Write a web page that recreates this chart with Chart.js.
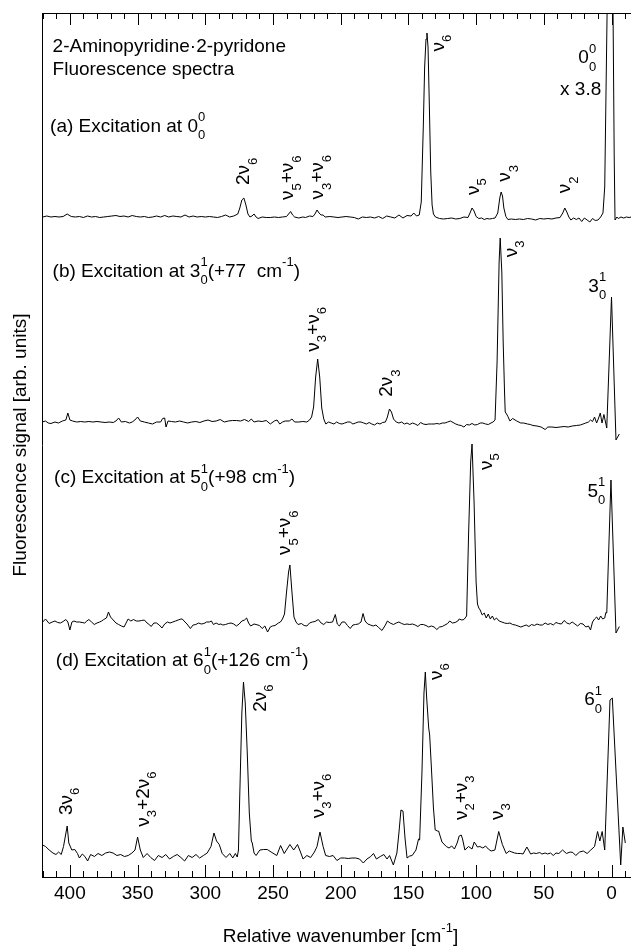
<!DOCTYPE html>
<html>
<head>
<meta charset="utf-8">
<title>2-Aminopyridine·2-pyridone fluorescence spectra</title>
<script src="https://cdn.jsdelivr.net/npm/chart.js"></script>
<style>
  body { margin: 0; background: #fff; }
  canvas { display: block; }
</style>
</head>
<body>
<canvas id="spectraCanvas" width="631" height="946"></canvas>
<script>
// Spectra: [relative wavenumber (cm-1), signal above the trace baseline]
const spectrumA = [
  [420,0],[417,1],[414,0],[411,0.5],[408,0],[405,0.5],[402,3],[399,0.5],[396,0],[393,0.5],[390,-0.5],[387,1],
  [384,0],[381,0.5],[378,-0.5],[375,0],[372,0.5],[369,1],[366,1.5],[363,0.5],[360,1],[357,0],[354,1.5],[351,0.5],
  [348,0],[345,0.5],[342,-0.5],[339,0],[336,1],[333,0],[330,1.5],[327,0],[324,1],[321,0.5],[318,0],[315,2],
  [312,0],[309,1],[306,0],[303,0.5],[300,0],[297,0.5],[294,0],[291,-0.5],[288,0.5],[285,2],[282,0],[279,1],
  [276,3],[274.5,9],[273,17],[271.5,19],[270,12],[268.5,3],[267,0],[265.5,1],[264,3],[262.5,0],[261,-1.5],
  [258,0],[255,-0.5],[252,-0.5],[249,0],[246,-0.5],[243,0],[240,0.5],[238.5,3],[237,5.5],[235.5,2],[234,0],
  [231,-1],[228,0],[226,-0.5],[223,1],[220.5,0.5],[219,3],[217.5,7],[216,4],[214.5,2],[213,2],[211.5,0],
  [208,0.5],[205,0],[202,-0.5],[199,0],[196,0.5],[193,0],[190,-0.5],[187,-2],[184,0],[181,-0.5],[178,0],
  [175,-1],[172,0.5],[169,-1.5],[166,1],[163,0],[160,-1],[157,2],[154,-1],[151,1.5],[148,1],[146,4],[144,1],
  [142,2],[140.5,15],[139,90],[138,150],[137,178],[136.3,184],[135.5,170],[134.5,110],[133.5,45],[132.5,12],
  [131.5,3],[130,0],[127,-1.5],[124,-2],[121,-1.5],[118,-1],[115,-2],[112,-1.5],[109,0],[106,-0.5],[104.5,4],
  [103,9],[101.5,6],[100,0.5],[98,-1.5],[96,-1],[94,-2.5],[92,-1.5],[90,-2],[88,-1.5],[86,-1],[84,4],
  [82.5,19],[81.5,25],[80.5,21],[79.5,9],[78,0.5],[76.5,-2.5],[74,-2],[71,-2.5],[68,-2],[65,-2.5],[62,-1.5],
  [59,-2],[56,-3],[53,-1.5],[50,-2],[47,-1.5],[44,-2],[41,-1],[38,-0.5],[36,4],[34.5,9],[33,5],[31.5,0],
  [30,-3],[28,-1],[26,-2.5],[24,-1],[22,-4.5],[20,-1],[18,-3],[16,-5],[14,-1.5],[12,-3.5],[10,-3],[8,0],
  [6.3,4],[5,30],[3,230],[1,400],[-1,230],[-2,60],[-2.6,-3],[-4,0],[-5,-1.5],[-7,0],[-9,-1],[-11,0],
  [-13,-0.5],[-14.5,0]
];

const spectrumB = [
  [420.5,0],[418,1],[416,-1],[414,-1.5],[411,0],[408.5,-1],[405.5,1],[403,2],[401.5,9],[400,2],[398,1],[395,0],
  [392,0.5],[389,0],[386,0.5],[383,0],[380,0.5],[377,0],[374,-0.5],[371,0],[368,-0.5],[366,1],[364,4],[362,0],
  [359,0.5],[356,-1],[354,0],[352,2],[350,5],[348,1],[345,0],[342,-1],[339,-2],[336,0],[333,0],[331.5,3.5],
  [330,4],[329,-5],[327.5,1],[325,0.5],[322,0],[319,1],[316,0],[313,-1],[310,0],[307,0.5],[304,-0.5],[301,1],
  [298,2],[295,0.5],[292,1],[289,2.5],[286,0],[283,1],[280,1.5],[277,1.5],[274,1],[271,2.5],[268,0.5],[266,3],
  [264,0],[261,1],[258,0.5],[255,1.5],[252,-2],[249,1],[247,2],[245,-2],[243,0],[241,1],[238,1],[236,3],
  [234,0],[231,0],[228,0.5],[225,0],[223,2],[221.5,5],[220,15],[218.5,45],[217,63],[215.5,45],[214,14],
  [212.5,3],[211,-2],[209,0],[207,-1],[205,-2],[203,0],[201,-1.5],[199,-2],[197,-1],[195,0],[193,0],[191,-2],
  [189,-1],[187,0],[185,0],[183,-1],[181,-2],[179,-0.5],[177,-2],[175,-3],[173,-1],[171,-2],[169,-0.5],[167,0],
  [165.5,5],[164,13],[162.5,10],[161,3],[159,0],[157,-1],[155,0],[153,-2],[151,-1],[149,-2.5],[147,-1],[145,-2],
  [143,-3.5],[141,-0.5],[139,-2],[137,-2.5],[135,-2],[133,-2],[131,-2],[129,-1.5],[127,-2],[125,-1],[123,-1],
  [121,0],[119,1],[117,-0.5],[115,-2],[113,-3],[111,-3.5],[109,-5],[107,-2.5],[105,-3],[103,-1.5],[101,-3],
  [99,-2.5],[97,-1],[95,-1],[93,-2],[91,-2.5],[89,-1],[87.5,0],[86,2],[84.5,60],[83,160],[82.2,184],[81,150],
  [80,80],[79,30],[78.5,10],[77.5,8],[76.5,5.5],[75,1],[73,3.5],[70,1],[67,-1],[65,-1],[62,-2],[60,-2.5],
  [58,-3.5],[55,-4],[52,-5],[49,-7.5],[47,-5],[44,-5],[41,-5.5],[38,-5],[35,-4.5],[32,-5],[29,-4],[26,-3.5],
  [23,-3],[21,-2],[19,-1],[17,0],[15.5,2],[14,0.5],[12.5,5],[11,-1],[9.5,4],[8.3,9],[7,-1],[5.6,7.5],
  [3.5,-6],[0,125],[-3.3,-18],[-5.8,-12]
];

const spectrumC = [
  [420.8,-1],[418,3],[415.3,-1.5],[413,0],[411,1],[409,-0.5],[407,-1],[405,0.5],[403,2.5],[401.5,0],[400,-8],
  [398.5,0],[397,1],[395,0],[393,0],[391,-0.5],[389,-1],[387.5,1],[386,2.5],[384,0],[382,-2.5],[380,-1],[378,0],
  [376.5,1],[375,2.5],[373,4],[371.5,10],[370,5],[368,2],[366,-1],[364,-2.5],[362,-4],[360,-5],[358.5,-1],
  [357,3],[355,1],[353,2.5],[351,1],[349,1],[347,1.5],[345,2],[343,-1],[341,-3],[340,-4.5],[338,-1],[336,-1],
  [334,-3],[332,-6],[330,-2],[328,0],[326,-1],[324,0],[322,1],[320,2],[318,3],[317,3],[315,0],[313.5,-2],
  [311,-6.5],[309,-3],[307,-2.5],[305,-1],[303,-2],[301,-1.5],[299,0],[297,0],[295.5,1],[294,-2.5],[292,-1],
  [290,-2.5],[288.5,-2],[287,-3],[285,-2.5],[283,-1.5],[281,-1],[279,-2],[277,-4],[275,-2],[273,1],[271,2],
  [269.5,4],[268,-1],[266.5,-4],[264,-2],[262.5,-2.5],[260,-3.5],[258,-6.5],[256,-4],[254,-10],[252,-5],
  [250.5,-4],[248.5,-3.5],[246,-1],[244.5,0],[243,3],[241.5,8],[240,30],[238.5,50],[237.5,57],[236,30],
  [234.5,5],[233,0],[231.5,-2.5],[229,-1.5],[227,-3.5],[225,-4],[223,-1],[221,0],[219,0.5],[216.5,2.5],
  [214.5,-1],[212.5,-2.5],[210.5,0],[208.5,-0.5],[206,0],[204,7.5],[202.5,-2],[201,-4],[199,0],[197,0],
  [195,-3.5],[193,-6.5],[191,-3],[189,-2.5],[187,-2],[185,0],[183.5,8.5],[182,1],[180,-2],[178,-3],[176,-4],
  [174,-3],[172,-5.5],[169.5,-8.5],[167,-3],[165.5,1],[163.5,-1],[161,-2.5],[159,-1],[157,0],[155,-1.5],
  [153,-2.5],[151,-2],[149,-2.5],[147,-2],[145,-3],[143,-4.5],[141,-2.5],[139,-2.5],[137,-3.5],[135,-5],
  [133,-4],[131,-5],[129,-7.5],[127,-5],[125,-4.5],[123,-3],[121,-1.5],[119.5,1],[117.5,-1],[115.5,-0.5],
  [113.5,1],[112.5,3],[110.5,2],[109,2.5],[107,6],[105.5,90],[104,160],[103,178],[101.5,120],[100,40],
  [99,18],[98,14],[97,12],[95.5,7],[94,9],[92.5,4],[91,8],[89.5,3],[88,6],[86.5,2],[85,4],[83,1],[81,0],
  [79,-1],[77,-1.5],[75,-1],[73,-2.5],[71,-3],[69,-4],[67,-5],[65,-4],[63,-3],[61,-4.5],[59,-2.5],[57,-3.5],
  [55,-2],[53,-3],[51,-3],[49,-1],[47,-2.5],[45,-1.5],[43,-3],[41,-0.5],[39,-1.5],[37,-2],[35,1.5],[33,-1],
  [31,-2],[29,0],[27,-2],[25,-4],[23,-1.5],[21,-2],[19,-5],[17,-4],[15.5,-8],[14,0],[12.5,3],[11,5],
  [9.5,2],[8,6],[6.5,3],[5,4],[4.2,9.5],[3.5,9],[0.4,142],[-3.3,-11],[-5.8,-4.5]
];

const spectrumD = [
  [420.8,8.5],[418,6.5],[415.3,3],[412.5,0],[410.3,-1.5],[408.3,1],[406.4,-1.5],[404.7,6.5],[402,27],[400.8,10],
  [398.6,3],[396.4,3.5],[394.4,-0.5],[393,-5],[390.8,-1],[388.9,-3.5],[386.9,-8],[384.7,-1.5],[381.9,-3.5],
  [379.2,-0.5],[376.4,-2.5],[373.6,0],[370.8,1],[368.1,0],[365.3,-2.5],[362.5,-1.5],[359.7,-3.5],[356.9,-2.5],
  [354.2,0],[351.9,3],[350,16],[348,3],[345.8,-4.5],[343,-0.5],[340.3,-4.5],[337.5,-7.5],[334.7,-2.5],
  [331.9,-4.5],[329.2,-1.5],[326.4,-6],[323.6,-3.5],[320.8,-1.5],[318,-4.5],[315.3,-8],[312.5,-2.5],
  [309.7,-4.5],[306.9,-1.5],[304.2,-5],[301.4,-2.5],[298.6,0],[295.8,6.5],[293.6,20],[291.7,12],[289.7,8.5],
  [287.5,-0.5],[284.7,-4.5],[281.9,-0.5],[279.7,-5],[277.8,-0.5],[276.4,-4],[275.5,3],[274.5,60],[273,140],
  [271.8,171],[270.5,150],[269,100],[267.5,40],[266,12],[265.3,10],[264,0],[262.5,-2.5],[259.7,3],[256.9,3.5],
  [254.2,3.5],[251.4,1],[247.2,-2.5],[244.4,7.5],[241.7,-0.5],[237.5,8.5],[234.7,3],[231.9,8.5],[229.7,1],
  [227.8,-6],[225,-2.5],[222.2,-4.5],[219.4,1],[217.5,6.5],[215.3,21],[213,6.5],[211.1,-2.5],[208.3,-3.5],
  [205.6,-2.5],[202.8,-7.5],[200,-5],[197.2,-5],[194.4,-5.5],[191.7,-5],[188.9,-5],[186.1,-6],[183.3,-10],
  [180.6,-6],[177.8,-3.5],[175.8,-0.5],[173.6,-6],[170.8,-3.5],[168.1,-1.5],[165.8,-6],[163.9,-2.5],[161.1,-12],
  [158.5,0],[157,20],[155.5,43],[154,42],[152.5,15],[151,-5],[149,-3],[147.2,-2.5],[144.4,3],[142.5,14],
  [141.7,13],[140,80],[138.5,160],[137.5,181],[136.5,155],[135,125],[134.3,118],[133,85],[131.5,45],
  [130.2,23],[128.5,22],[127.7,22],[125.2,11],[122,6.5],[120,5],[118,7],[116,4],[114,10],[112.5,17],[111,18],
  [110,14],[108.3,3],[105.6,6.5],[103,4],[101.4,11],[99,6],[97.2,6.5],[95,5],[93,7],[91,4],[88.9,2],[86.1,3],
  [83.3,21.5],[80.6,8.5],[77.8,-0.5],[75.5,2],[73.6,1],[71.5,0],[69.4,-0.5],[67,-0.5],[65.3,-1],[62.5,6],
  [59.7,-1],[57.5,0],[55.6,-0.5],[53,0.5],[51.4,-1],[49,0],[47.2,-1],[45,0],[43,-2.5],[41,0],[38.9,-0.5],
  [36.1,3],[33.3,-0.5],[30.6,1],[28.5,0.5],[26.4,-2.5],[23.6,1],[20.8,2],[18,-0.5],[15.3,3],[12.5,6.5],
  [10.3,21.5],[8.6,12],[6.9,21.5],[5,3],[1.1,153],[-0.6,155],[-6.8,-12],[-8.4,26],[-10.2,10]
];

// baseline of each trace on the (arbitrary) signal axis, (a) on top
const traceOffsets = [660, 455, 255, 24];
const tickLabels = [400, 350, 300, 250, 200, 150, 100, 50, 0];

// text: _x subscript, ^x superscript, _x^y stacked; positions in data units
const panelTexts = [
  { x: 412.8, y: 825, text: '2-Aminopyridine·2-pyridone' },
  { x: 412.8, y: 802, text: 'Fluorescence spectra' },
  { x: 414.6, y: 745.3, text: '(a) Excitation at 0_0^0' },
  { x: 412.8, y: 600.3, text: '(b) Excitation at 3_0^1(+77  cm^{-1})' },
  { x: 411.7, y: 393.7, text: '(c) Excitation at 5_0^1(+98 cm^{-1})' },
  { x: 410.4, y: 211, text: '(d) Excitation at 6_0^1(+126 cm^{-1})' },
  { x: 24.5, y: 813.7, text: '0_0^0' },
  { x: 38, y: 782, text: 'x 3.8' },
  { x: 17.1, y: 585.3, text: '3_0^1' },
  { x: 17.8, y: 380.3, text: '5_0^1' },
  { x: 20.1, y: 172, text: '6_0^1' }
];
const peakTexts = [
  { x: 267.7, y: 692, text: '2ν_6' },
  { x: 234.9, y: 677, text: 'ν_5+ν_6' },
  { x: 213.0, y: 677.5, text: 'ν_3+ν_6' },
  { x: 123.9, y: 825.5, text: 'ν_6' },
  { x: 98.2, y: 682, text: 'ν_5' },
  { x: 74.9, y: 695.3, text: 'ν_3' },
  { x: 30.6, y: 683.7, text: 'ν_2' },
  { x: 216.2, y: 525.3, text: 'ν_3+ν_6' },
  { x: 161.9, y: 480.3, text: '2ν_3' },
  { x: 69.9, y: 619.7, text: 'ν_3' },
  { x: 237.1, y: 322, text: 'ν_5+ν_6' },
  { x: 88.3, y: 407, text: 'ν_5' },
  { x: 398.8, y: 62, text: '3ν_6' },
  { x: 341.6, y: 50.3, text: 'ν_3+2ν_6' },
  { x: 255.5, y: 165.3, text: '2ν_6' },
  { x: 212.5, y: 58.7, text: 'ν_3+ν_6' },
  { x: 125.2, y: 197, text: 'ν_6' },
  { x: 106.8, y: 57, text: 'ν_2+ν_3' },
  { x: 80.2, y: 57, text: 'ν_3' }
];

const FAMILY = '"Liberation Sans", Arial, Helvetica, sans-serif';
const MAIN_FONT = '19px ' + FAMILY;
const SCRIPT_FONT = '13px ' + FAMILY;

function parseRich(s) {
  const out = [];
  let i = 0, buf = '';
  const grab = () => {
    if (s[i] === '{') { const j = s.indexOf('}', i); const t = s.slice(i + 1, j); i = j + 1; return t; }
    return s[i++];
  };
  while (i < s.length) {
    const c = s[i];
    if (c === '_' || c === '^') {
      if (buf) { out.push({ t: buf }); buf = ''; }
      i++;
      const t = grab();
      if (c === '_' && s[i] === '^') { i++; out.push({ sub: t, sup: grab() }); }
      else out.push(c === '_' ? { sub: t } : { sup: t });
    } else { buf += c; i++; }
  }
  if (buf) out.push({ t: buf });
  return out;
}

function richWidth(ctx, s) {
  let w = 0;
  parseRich(s).forEach(p => {
    if (p.t) { ctx.font = MAIN_FONT; w += ctx.measureText(p.t).width; }
    else {
      ctx.font = SCRIPT_FONT;
      w += Math.max(p.sub ? ctx.measureText(p.sub).width : 0, p.sup ? ctx.measureText(p.sup).width : 0);
    }
  });
  return w;
}

function drawRich(ctx, s, x, y, rotated) {
  ctx.save();
  ctx.translate(x, y);
  if (rotated) ctx.rotate(-Math.PI / 2);
  ctx.textBaseline = 'alphabetic';
  ctx.textAlign = 'left';
  let cx = 0;
  parseRich(s).forEach(p => {
    if (p.t) {
      ctx.font = MAIN_FONT;
      ctx.fillText(p.t, cx, 0);
      cx += ctx.measureText(p.t).width;
    } else {
      ctx.font = SCRIPT_FONT;
      let w = 0;
      if (p.sub) { ctx.fillText(p.sub, cx, 7.5); w = ctx.measureText(p.sub).width; }
      if (p.sup) { ctx.fillText(p.sup, cx, -10.5); w = Math.max(w, ctx.measureText(p.sup).width); }
      cx += w;
    }
  });
  ctx.restore();
}

// frame top, inward tick marks, x title and all the annotations
const frameAndLabels = {
  id: 'frameAndLabels',
  afterDraw(chart) {
    const { ctx, chartArea: area, scales: { x, y } } = chart;
    ctx.save();
    ctx.strokeStyle = '#000';
    ctx.lineWidth = 1;
    ctx.beginPath();
    ctx.moveTo(area.left, area.top + 0.5);
    ctx.lineTo(area.right, area.top + 0.5);
    x.ticks.forEach(t => {
      if (Math.abs(t.value % 10) > 1e-6) return;
      const len = t.value % 50 === 0 ? 12 : 6;
      const px = Math.round(x.getPixelForValue(t.value)) + 0.5;
      ctx.moveTo(px, area.bottom);
      ctx.lineTo(px, area.bottom - len);
      ctx.moveTo(px, area.top);
      ctx.lineTo(px, area.top + len);
    });
    ctx.stroke();

    ctx.fillStyle = '#000';
    panelTexts.forEach(l => drawRich(ctx, l.text, x.getPixelForValue(l.x), y.getPixelForValue(l.y), false));
    peakTexts.forEach(l => drawRich(ctx, l.text, x.getPixelForValue(l.x), y.getPixelForValue(l.y), true));

    const title = 'Relative wavenumber [cm^{-1}]';
    const cx = (area.left + area.right) / 2 + 4;
    drawRich(ctx, title, cx - richWidth(ctx, title) / 2, 942, false);
    ctx.restore();
  }
};

window.onload = function () {
  Chart.defaults.font.family = FAMILY;
  Chart.defaults.color = '#000';
  const spectra = [spectrumA, spectrumB, spectrumC, spectrumD];

  new Chart(document.querySelector('#spectraCanvas'), {
    type: 'line',
    data: {
      datasets: spectra.map((s, i) => ({
        data: s.map(([w, v]) => ({ x: w, y: v + traceOffsets[i] })),
        borderColor: '#000',
        borderWidth: 1,
        pointRadius: 0,
        tension: 0,
        fill: false
      }))
    },
    options: {
      responsive: false,
      animation: false,
      layout: { padding: { top: 13, right: 0, left: 0, bottom: 0 } },
      plugins: { legend: { display: false }, tooltip: { enabled: false } },
      scales: {
        x: {
          type: 'linear',
          reverse: true,
          min: -14.4,
          max: 420.6,
          afterFit: scale => { scale.height = 69; },
          grid: { drawOnChartArea: false, drawTicks: false },
          border: { color: '#000', width: 1 },
          ticks: {
            stepSize: 10,
            includeBounds: false,
            autoSkip: false,
            maxRotation: 0,
            padding: 5,
            font: { size: 19 },
            callback: v => tickLabels.includes(v) ? String(v) : ''
          }
        },
        y: {
          type: 'linear',
          min: 0,
          max: 864,
          afterFit: scale => { scale.width = 42; },
          grid: { drawOnChartArea: false, drawTicks: false },
          border: { color: '#000', width: 1 },
          ticks: { display: false },
          title: {
            display: true,
            text: 'Fluorescence signal [arb. units]',
            font: { size: 19 },
            padding: { top: 9, bottom: 0 }
          }
        }
      }
    },
    plugins: [frameAndLabels]
  });
};
</script>
</body>
</html>
